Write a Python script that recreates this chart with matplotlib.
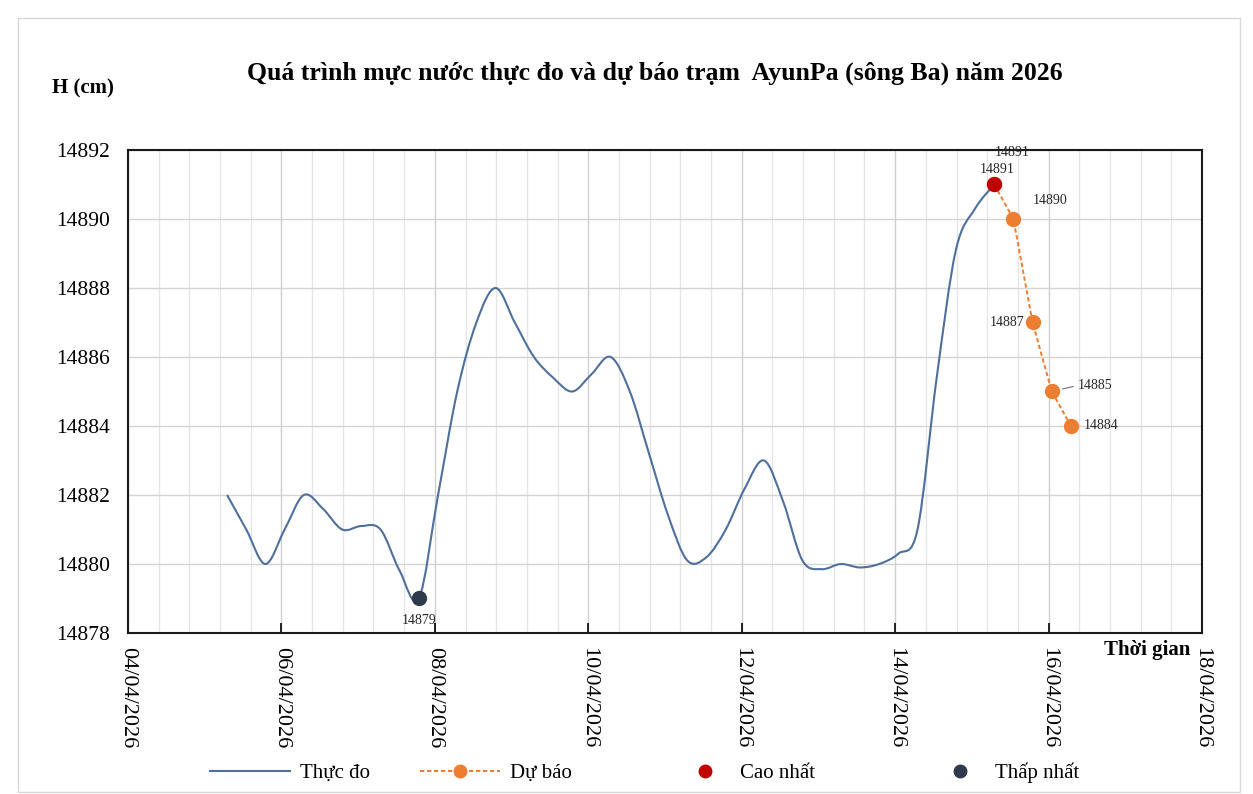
#!/usr/bin/env python3

import matplotlib
matplotlib.use('Agg')
import matplotlib.pyplot as plt
import matplotlib.dates as mdates
from matplotlib.path import Path
from matplotlib.patches import PathPatch, Rectangle
from matplotlib.lines import Line2D
import numpy as np
import pandas as pd


# Data. Observed levels every 6 hours (cm), forecast every 6 hours.
obs_start = '2026-04-05 07:00'
obs_values = [14882, 14881, 14880, 14881, 14882, 14881.6, 14881, 14881.1, 14881, 14879.8, 14879,
              14882, 14885, 14887, 14888, 14887, 14886, 14885.4, 14885, 14885.5, 14886,
              14885, 14883.2, 14881.4, 14880.1, 14880.2, 14881, 14882.2, 14883, 14881.8, 14880.1,
              14879.85, 14880, 14879.9, 14880, 14880.3, 14881, 14885.4, 14889.1, 14890.3, 14891]
fc_start = '2026-04-15 07:00'
fc_values = [14891, 14890, 14887, 14885, 14884]
max_time, max_value = '2026-04-15 07:00', 14891
min_time, min_value = '2026-04-07 19:00', 14879
xtick_dates = ['2026-04-04', '2026-04-06', '2026-04-08', '2026-04-10',
               '2026-04-12', '2026-04-14', '2026-04-16', '2026-04-18']

title = 'Quá trình mực nước thực đo và dự báo trạm  AyunPa (sông Ba) năm 2026'
labels = ['Thực đo', 'Dự báo', 'Cao nhất', 'Thấp nhất']

# Style.
serif = ['Liberation Serif', 'DejaVu Serif']
plt.rcParams['font.family'] = serif
c_obs = '#4f6f9c'
c_fc = '#ED7D31'
c_max = '#C00000'
c_min = '#2f3b4d'
dash = (0, (2.2, 1.4))

W, H = 1253, 794
fig = plt.figure(figsize=(W / 100, H / 100), dpi=100, facecolor='white')
ax = fig.add_axes((128 / W, 1 - 633 / H, 1074 / W, 483 / H))

t_obs = mdates.date2num(pd.date_range(obs_start, periods=len(obs_values), freq='6h'))
t_fc = mdates.date2num(pd.date_range(fc_start, periods=len(fc_values), freq='6h'))
y_obs = np.asarray(obs_values, dtype=float)


# Excel-like smoothed line: cubic Bezier segments through the points.
def smooth_path(x, y):
    pts = np.column_stack([x, y])
    n = len(pts)
    verts = [pts[0]]
    codes = [Path.MOVETO]
    for i in range(n - 1):
        p0 = pts[max(i - 1, 0)]
        p1 = pts[i]
        p2 = pts[i + 1]
        p3 = pts[min(i + 2, n - 1)]
        c1 = p1 + (p2 - p0) / 6.0
        c2 = p2 - (p3 - p1) / 6.0
        verts += [c1, c2, p2]
        codes += [Path.CURVE4] * 3
    return Path(verts, codes)


ax.add_patch(PathPatch(smooth_path(t_obs, y_obs), facecolor='none',
                       edgecolor=c_obs, linewidth=1.5, zorder=3))
ax.plot(t_fc, fc_values, color=c_fc, linestyle=dash, linewidth=1.4,
        marker='o', markersize=10, markeredgecolor=c_fc, zorder=4)
ax.plot(mdates.date2num(pd.Timestamp(max_time)), max_value, 'o', color=c_max,
        markersize=10, zorder=5)
ax.plot(mdates.date2num(pd.Timestamp(min_time)), min_value, 'o', color=c_min,
        markersize=10, zorder=5)

# Data labels (offsets in pixels).
lab_kw = dict(textcoords='offset pixels', fontsize=10, color='#262626',
              ha='center', va='center', zorder=6)
offsets = [(18, 32), (37, 18), (-26, 0), (43, 6), (30, 0)]
for t, v, off in zip(t_fc, fc_values, offsets):
    if v == 14885:
        ax.annotate(f'{v}', (t, v), xytext=off, arrowprops=dict(
            arrowstyle='-', color='#7f7f7f', lw=0.9, shrinkA=1, shrinkB=8,
            relpos=(0, 0.5)), **lab_kw)
    else:
        ax.annotate(f'{v}', (t, v), xytext=off, **lab_kw)
ax.annotate(f'{max_value}', (mdates.date2num(pd.Timestamp(max_time)), max_value),
            xytext=(3, 15), **lab_kw)
ax.annotate(f'{min_value}', (mdates.date2num(pd.Timestamp(min_time)), min_value),
            xytext=(0, -22), **lab_kw)

# Axes.
xt = mdates.date2num(pd.to_datetime(xtick_dates))
ax.set_xlim(xt[0], xt[-1])
ax.set_ylim(14878, 14892)
ax.set_xticks(xt)
ax.set_xticks(np.arange(xt[0], xt[-1] + 0.01, 0.4), minor=True)
ax.xaxis.set_major_formatter(mdates.DateFormatter('%d/%m/%Y'))
ax.set_yticks(np.arange(14878, 14893, 2))
ax.yaxis.set_major_formatter(matplotlib.ticker.FormatStrFormatter('%d'))
ax.tick_params(axis='x', which='major', direction='in', length=7, width=1.2,
               labelsize=16, labelrotation=-90, pad=10)
ax.tick_params(axis='x', which='minor', length=0)
ax.tick_params(axis='y', length=0, labelsize=15.5, pad=13)
for lab in ax.get_xticklabels():
    lab.set_va('top')
    lab.set_ha('center')
ax.grid(axis='x', which='minor', color='#e6e6e6', linewidth=1.0)
ax.grid(axis='x', which='major', color='#cfcfcf', linewidth=1.0)
ax.grid(axis='y', which='major', color='#d4d4d4', linewidth=1.0)
ax.set_axisbelow(True)
for s in ax.spines.values():
    s.set_linewidth(1.5)
    s.set_color('#1a1a1a')

fig.text(655 / W, 1 - 73 / H, title, ha='center', va='center', fontsize=18.5,
         fontweight='bold')
fig.text(83 / W, 1 - 88 / H, 'H (cm)', ha='center', va='center', fontsize=15,
         fontweight='bold')
fig.text(1190 / W, 1 - 650 / H, 'Thời gian', ha='right', va='center',
         fontsize=15, fontweight='bold')

# Legend: one entry per slot, placed as in the reference.
handles = [
    Line2D([], [], color=c_obs, linewidth=1.5),
    Line2D([], [], color=c_fc, linestyle=dash, linewidth=1.4,
           marker='o', markersize=9),
    Line2D([], [], color=c_max, linestyle='none', marker='o', markersize=9),
    Line2D([], [], color=c_min, linestyle='none', marker='o', markersize=9),
]
slots = [(210, 80), (420, 80), (680, 50), (935, 50)]  # handle start, length (px)
leg_fs = 15
for h, lab, (x0, hl) in zip(handles, labels, slots):
    leg = fig.legend([h], [lab], loc='center left',
                     bbox_to_anchor=(x0 / W, 1 - 773 / H), frameon=False,
                     fontsize=leg_fs, handlelength=hl / (leg_fs * 100 / 72),
                     handletextpad=0.5, borderpad=0, borderaxespad=0)

# Chart-area border.
fig.patches.append(Rectangle((18 / W, 2 / H), 1222 / W, 774 / H,
                             transform=fig.transFigure, fill=False,
                             edgecolor='#d9d9d9', linewidth=1.0))

fig.savefig('out.png', dpi=100, facecolor='white')
